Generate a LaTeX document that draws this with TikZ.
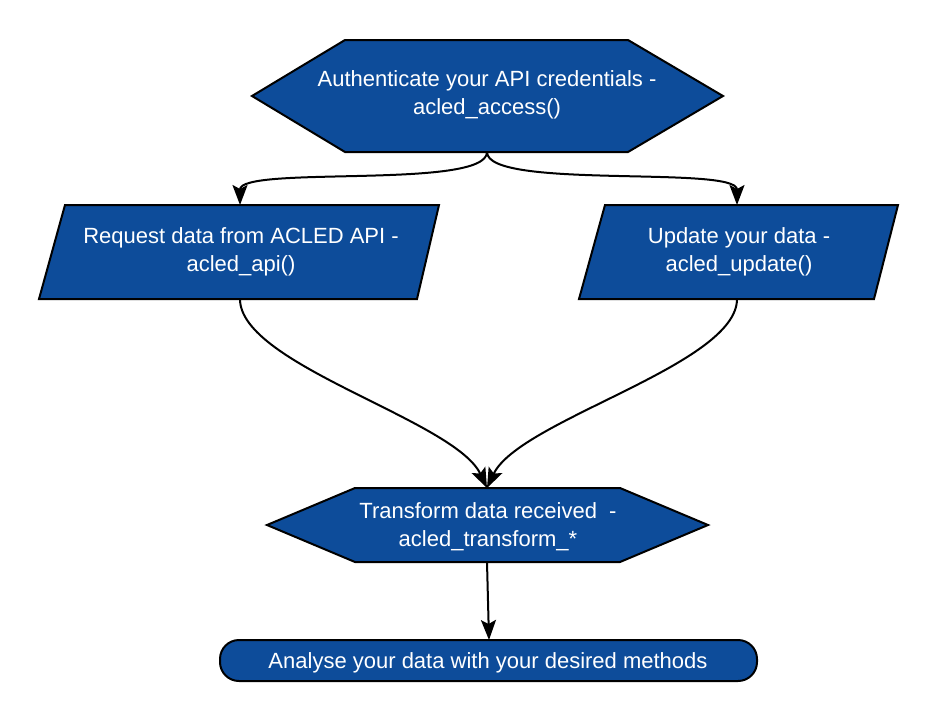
\documentclass[tikz,border=0pt]{standalone}
\usepackage{fontspec}
\setmainfont{Liberation Sans}
\usetikzlibrary{arrows.meta}
\definecolor{boxblue}{RGB}{13,76,154}
\tikzset{
  shapebox/.style={draw=black, fill=boxblue, line width=2pt, line join=miter},
  lbl/.style={text=white, align=center, font=\fontsize{22}{28}\selectfont, inner sep=0pt},
  conn/.style={draw=black, line width=2pt, -{Stealth[length=20pt,width=15pt,inset=4pt]}}
}
\begin{document}
\begin{tikzpicture}[x=1pt,y=-1pt]
\useasboundingbox (0,0) rectangle (937,721);
% shapes
\draw[shapebox] (252,96) -- (345,40) -- (628,40) -- (723,96) -- (628,152) -- (345,152) -- cycle;
\draw[shapebox] (65,205) -- (439,205) -- (417,299) -- (39,299) -- cycle;
\draw[shapebox] (605,205) -- (898,205) -- (874,299) -- (579,299) -- cycle;
\draw[shapebox] (267,525) -- (355,488) -- (620,488) -- (708,525) -- (620,562) -- (355,562) -- cycle;
\draw[shapebox, rounded corners=19pt] (220,640) rectangle (757,681);
% labels
\node[lbl] (auth) at (487,95) {Authenticate your API credentials -\\acled\_access()};
\node[lbl] (req) at (241,252) {Request data from ACLED API -\\acled\_api()};
\node[lbl] (upd) at (739,252) {Update your data -\\acled\_update()};
\node[lbl] (trans) at (488,527) {Transform data received\ \ -\\acled\_transform\_*};
\node[lbl] (anal) at (488,663) {Analyse your data with your desired methods};
% ports
\coordinate (authS) at (487,152);
\coordinate (reqN) at (240,205);
\coordinate (reqS) at (240,299);
\coordinate (updN) at (737,205);
\coordinate (updS) at (737,299);
\coordinate (transN) at (487,488);
\coordinate (transS) at (487,562);
\coordinate (analN) at (489,640);
% connectors
\draw[conn] (authS) .. controls (487,190) and (240,165) .. (reqN);
\draw[conn] (authS) .. controls (487,190) and (737,165) .. (updN);
\draw[conn] (reqS) .. controls (240,365) and (455,420) .. (transN);
\draw[conn] (updS) .. controls (737,365) and (519,420) .. (transN);
\draw[conn] (transS) -- (analN);
\end{tikzpicture}
\end{document}
